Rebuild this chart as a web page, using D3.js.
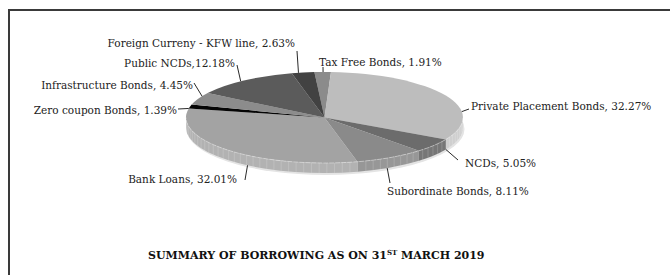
<!DOCTYPE html>
<html>
<head>
<meta charset="utf-8">
<script src="https://cdn.jsdelivr.net/npm/d3@7"></script>
<style>
  body { margin: 0; background: #fff; }
  svg { display: block; }
  .lbl { font-family: "DejaVu Serif", serif; font-size: 10.5px; fill: #222; }
  .title { font-family: "DejaVu Serif", serif; font-size: 11px; font-weight: bold; fill: #111; }
</style>
</head>
<body>
<div class="content"></div>
<script>
(function() {

  // Data (clockwise from 12 o'clock)
  var categories = ['Tax Free Bonds', 'Private Placement Bonds', 'NCDs', 'Subordinate Bonds',
    'Bank Loans', 'Zero coupon Bonds', 'Infrastructure Bonds', 'Public NCDs', 'Foreign Curreny - KFW line'];
  var shares = [1.91, 32.27, 5.05, 8.11, 32.01, 1.39, 4.45, 12.18, 2.63];
  var separators = [', ', ', ', ', ', ', ', ', ', ', ', ', ', ',', ', '];
  var title = 'SUMMARY OF BORROWING AS ON 31';

  // Design
  var width = 670, height = 275;
  var cx = 324.5, cy = 117.5, rx = 138.5, ry = 45.5, depth = 10;
  var startAngle = -4.2 * Math.PI / 180;
  var tops = ['#8b8b8b', '#bdbdbd', '#6c6c6c', '#8a8a8a', '#a3a3a3', '#050505', '#8c8c8c', '#5b5b5b', '#424242'];

  // label placement: text anchor point and where the leader leaves the label
  var labelLayout = [
    {tx: 319, ty: 66, anchor: 'start', lx: 323, ly: 67},
    {tx: 471, ty: 110, anchor: 'start', lx: 469, ly: 109},
    {tx: 465, ty: 167, anchor: 'start', lx: 458, ly: 160},
    {tx: 387, ty: 195, anchor: 'start', lx: 390, ly: 183},
    {tx: 237, ty: 183, anchor: 'end', lx: 245, ly: 180},
    {tx: 177, ty: 114, anchor: 'end', lx: 178, ly: 109},
    {tx: 193, ty: 89, anchor: 'end', lx: 194, ly: 83},
    {tx: 235, ty: 67, anchor: 'end', lx: 237, ly: 65},
    {tx: 295, ty: 47, anchor: 'end', lx: 297, ly: 51}
  ];

  var data = categories.map(function(c, i) {
    return {name: c, value: shares[i], sep: separators[i], color: tops[i], layout: labelLayout[i]};
  });

  var pie = d3.pie()
    .sort(null)
    .value(function(d) { return d.value; })
    .startAngle(startAngle)
    .endAngle(startAngle + 2 * Math.PI);

  var arcs = pie(data);

  function pt(a, dy) {
    return [cx + rx * Math.sin(a), cy - ry * Math.cos(a) + (dy || 0)];
  }

  function topPath(d) {
    var p0 = pt(d.startAngle), p1 = pt(d.endAngle);
    var large = (d.endAngle - d.startAngle) > Math.PI ? 1 : 0;
    return 'M' + cx + ',' + cy + 'L' + p0 + 'A' + rx + ',' + ry + ' 0 ' + large + ' 1 ' + p1 + 'Z';
  }

  function frontRange(d) {
    var s = Math.max(d.startAngle, Math.PI / 2);
    var e = Math.min(d.endAngle, 3 * Math.PI / 2);
    return s < e ? [s, e] : null;
  }

  function sidePath(d) {
    var r = frontRange(d);
    if (!r) return null;
    return 'M' + pt(r[0]) + 'A' + rx + ',' + ry + ' 0 0 1 ' + pt(r[1]) +
      'L' + pt(r[1], depth) + 'A' + rx + ',' + ry + ' 0 0 0 ' + pt(r[0], depth) + 'Z';
  }

  var svg = d3.select('.content').append('svg')
    .attr('width', width)
    .attr('height', height);

  // page frame
  svg.append('path')
    .attr('d', 'M9,' + height + 'V10H' + width)
    .attr('fill', 'none')
    .attr('stroke', '#3a3a3a')
    .attr('stroke-width', 2);

  // faint shadow under the pie
  svg.append('ellipse')
    .attr('cx', cx + 1)
    .attr('cy', cy + depth + 1.5)
    .attr('rx', rx + 0.5)
    .attr('ry', ry + 0.5)
    .attr('fill', '#e4e4e4');

  var pieGroup = svg.append('g').attr('class', 'pie');

  // side walls
  pieGroup.selectAll('.side')
    .data(arcs.filter(function(d) { return frontRange(d); }))
    .enter()
    .append('path')
    .attr('class', 'side')
    .attr('d', sidePath)
    .attr('fill', function(d) { return d3.color(d.data.color).brighter(0.25); });

  // vertical banding on the walls
  arcs.forEach(function(d) {
    var r = frontRange(d);
    if (!r) return;
    var step = 3.2 * Math.PI / 180;
    for (var a = r[0] + step; a < r[1] - step / 3; a += step) {
      var p = pt(a), q = pt(a, depth);
      pieGroup.append('line')
        .attr('x1', p[0]).attr('y1', p[1])
        .attr('x2', q[0]).attr('y2', q[1])
        .attr('stroke', '#fff')
        .attr('stroke-opacity', 0.22)
        .attr('stroke-width', 0.8);
    }
  });

  // top faces
  pieGroup.selectAll('.top')
    .data(arcs)
    .enter()
    .append('path')
    .attr('class', 'top')
    .attr('d', topPath)
    .attr('fill', function(d) { return d.data.color; });

  // rim highlight along the front edge
  pieGroup.append('path')
    .attr('d', 'M' + pt(Math.PI / 2) + 'A' + rx + ',' + ry + ' 0 0 1 ' + pt(3 * Math.PI / 2))
    .attr('fill', 'none')
    .attr('stroke', '#fff')
    .attr('stroke-opacity', 0.55)
    .attr('stroke-width', 0.7)
    .attr('stroke-dasharray', '5,1');

  // leader lines: from label to nearest visible edge point of its slice
  function nearestEdge(d, lx, ly) {
    var best = null, bestDist = Infinity;
    for (var k = 0; k <= 80; k++) {
      var a = d.startAngle + (d.endAngle - d.startAngle) * k / 80;
      var p = pt(a, Math.cos(a) < 0 ? depth : 0);
      var dist = (p[0] - lx) * (p[0] - lx) + (p[1] - ly) * (p[1] - ly);
      if (dist < bestDist) { bestDist = dist; best = p; }
    }
    return best;
  }

  var labels = svg.append('g').attr('class', 'labels');

  arcs.forEach(function(d) {
    var L = d.data.layout;
    var end = nearestEdge(d, L.lx, L.ly);
    labels.append('line')
      .attr('x1', L.lx).attr('y1', L.ly)
      .attr('x2', end[0]).attr('y2', end[1])
      .attr('stroke', '#111')
      .attr('stroke-width', 0.9);
    labels.append('text')
      .attr('class', 'lbl')
      .attr('x', L.tx)
      .attr('y', L.ty)
      .attr('text-anchor', L.anchor)
      .text(d.data.name + d.data.sep + d.data.value.toFixed(2) + '%');
  });

  // title
  var t = svg.append('text')
    .attr('class', 'title')
    .attr('x', 148)
    .attr('y', 259);
  t.append('tspan').text(title);
  t.append('tspan').attr('font-size', '7px').attr('dy', -4).text('ST');
  t.append('tspan').attr('dy', 4).text(' MARCH 2019');

})();
</script>
</body>
</html>
